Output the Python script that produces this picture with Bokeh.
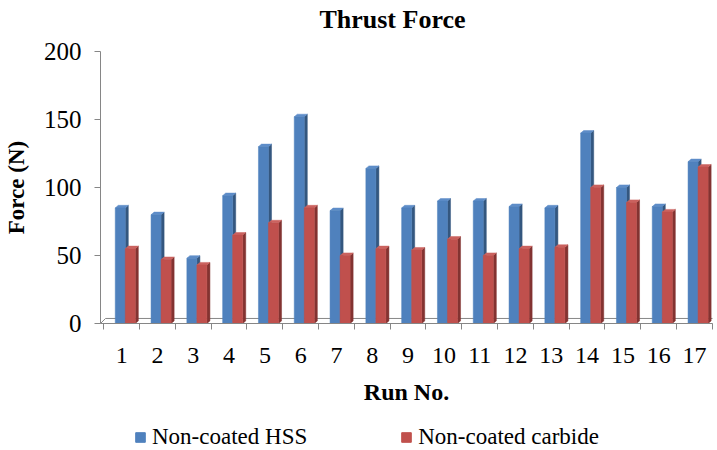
from bokeh.plotting import figure
from bokeh.layouts import column
from bokeh.models import FixedTicker, Legend, LegendItem, Range1d, ColumnDataSource, Label
from bokeh.embed import file_html
from bokeh.resources import INLINE

runs = list(range(1, 18))
hss = [85, 80, 48, 94, 130, 152, 83, 114, 85, 90, 90, 86, 85, 140, 100, 86, 119]
carbide = [55, 47, 43, 65, 74, 85, 50, 55, 54, 62, 50, 55, 56, 100, 89, 82, 115]
y_ticks = [0, 50, 100, 150, 200]
series_names = ["Non-coated HSS", "Non-coated carbide"]
chart_title = "Thrust Force"

FONT = "Liberation Serif"
AXIS_GRAY = "#868686"
W = 713
X0, X1 = 0.408, 17.503


def strip(height, y_range):
    f = figure(width=W, height=height, x_range=Range1d(X0, X1), y_range=y_range,
               output_backend="svg", toolbar_location=None, x_axis_type=None, y_axis_type=None,
               min_border=0)
    f.outline_line_color = None
    f.grid.visible = False
    f.background_fill_color = "white"
    f.border_fill_color = "white"
    return f


# title strip
tf = strip(36, Range1d(0, 1))
tf.add_layout(Label(x=292, y=17, x_units="screen", y_units="screen", text=chart_title,
                    text_align="center", text_baseline="middle", text_font=FONT,
                    text_font_size="26px", text_font_style="bold", text_color="black"))

p = figure(width=W, height=384, x_range=Range1d(X0, X1), y_range=Range1d(0, 200),
           output_backend="svg", toolbar_location=None,
           min_border_left=100, min_border_right=1, min_border_top=15, min_border_bottom=97)
p.outline_line_color = None
p.grid.visible = False
p.background_fill_color = "white"
p.border_fill_color = "white"

# 3D depth (data units)
DX = 0.085
DY = 1.9
BAR_W = 0.28
offsets = [-0.18, 0.10]
front_cols = ["#4F81BD", "#C0504D"]
side_cols = ["#34577F", "#833331"]
top_cols = ["#5E8DC8", "#CB625F"]

# floor slab
FX = 0.14
FH = 3.7
p.patch([X0, X0 + FX, X1 + FX, X1], [0, FH, FH, 0], fill_color="white",
        line_color=AXIS_GRAY, line_width=1)

series = [hss, carbide]
for vals, off, fc, sc, tc in zip(series, offsets, front_cols, side_cols, top_cols):
    left = [r + off for r in runs]
    right = [l + BAR_W for l in left]
    side_xs = [[rt, rt + DX, rt + DX, rt] for rt in right]
    side_ys = [[0, DY, v + DY, v] for v in vals]
    top_xs = [[l, l + DX, rt + DX, rt] for l, rt in zip(left, right)]
    top_ys = [[v, v + DY, v + DY, v] for v in vals]
    p.patches(side_xs, side_ys, fill_color=sc, line_color=sc, line_width=0.5)
    p.patches(top_xs, top_ys, fill_color=tc, line_color=tc, line_width=0.5)
    src = ColumnDataSource(dict(left=left, right=right, top=vals))
    p.quad(left="left", right="right", bottom=0, top="top", source=src,
           fill_color=fc, line_color=fc, line_width=0.5)

# axes
xa = p.xaxis[0]
xa.ticker = FixedTicker(ticks=runs, minor_ticks=[r - 0.5 for r in runs] + [17.5])
xa.axis_line_color = AXIS_GRAY
xa.major_tick_line_color = None
xa.major_tick_out = 0
xa.major_tick_in = 0
xa.minor_tick_line_color = AXIS_GRAY
xa.minor_tick_out = 6
xa.minor_tick_in = 0
xa.major_label_standoff = 18
xa.major_label_text_font = FONT
xa.major_label_text_font_size = "24px"
xa.major_label_text_color = "black"
xa.axis_label = "Run No."
xa.axis_label_text_font = FONT
xa.axis_label_text_font_size = "24px"
xa.axis_label_text_font_style = "bold"
xa.axis_label_text_color = "black"
xa.axis_label_standoff = 13

ya = p.yaxis[0]
ya.ticker = FixedTicker(ticks=y_ticks, minor_ticks=[])
ya.axis_line_color = AXIS_GRAY
ya.major_tick_line_color = AXIS_GRAY
ya.major_tick_out = 6
ya.major_tick_in = 0
ya.minor_tick_line_color = None
ya.major_label_standoff = 13
ya.major_label_text_font = FONT
ya.major_label_text_font_size = "25px"
ya.major_label_text_color = "black"
ya.axis_label = "Force (N)"
ya.axis_label_text_font = FONT
ya.axis_label_text_font_size = "23px"
ya.axis_label_text_font_style = "bold"
ya.axis_label_text_color = "black"
ya.axis_label_standoff = 12

# legend strip; its swatch renderers use the series data but lie outside
# this strip's ranges, so only the legend shows
lg = strip(28, Range1d(-2, -1))
lg_renderers = []
for vals, off, fc in zip(series, offsets, front_cols):
    left = [r + off for r in runs]
    src = ColumnDataSource(dict(left=left, right=[l + BAR_W for l in left], top=vals))
    lg_renderers.append(lg.quad(left="left", right="right", bottom=0, top="top", source=src,
                                fill_color=fc, line_color=fc))
legend = Legend(items=[LegendItem(label=n, renderers=[r]) for n, r in zip(series_names, lg_renderers)],
                location=(34, -2), orientation="horizontal", spacing=93,
                glyph_width=12, glyph_height=12, label_standoff=6, padding=0, margin=0,
                border_line_color=None, background_fill_alpha=0,
                label_text_font=FONT, label_text_font_size="23px", label_text_color="black")
lg.add_layout(legend, "center")

open("out.html", "w").write(file_html(column(tf, p, lg, spacing=0), INLINE))
